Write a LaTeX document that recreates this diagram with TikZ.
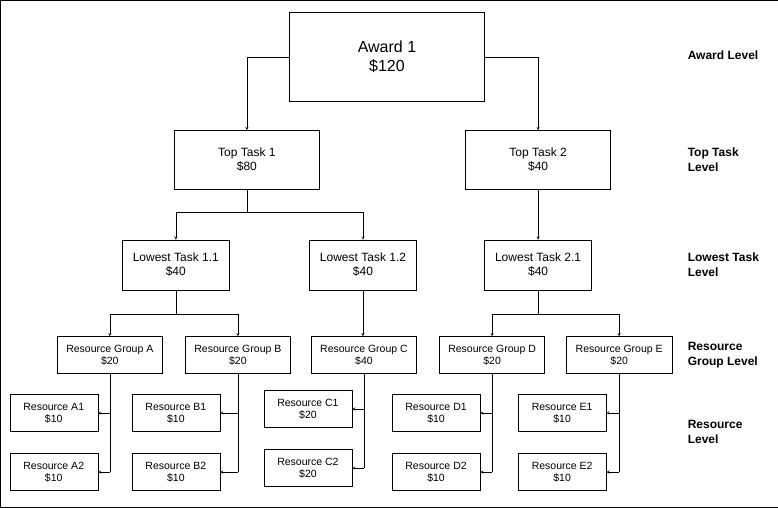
\documentclass[tikz,border=0pt]{standalone}
\usepackage{fontspec}
\setmainfont{Liberation Sans}
\usetikzlibrary{arrows,positioning}
\begin{document}
\begin{tikzpicture}[
  x=1pt, y=-1pt,
  >=stealth,
  box/.style={draw, rectangle, align=center, inner sep=1pt, font=\fontsize{12}{14}\selectfont},
  resbox/.style={box, minimum width=88pt, minimum height=37pt, font=\fontsize{10.5}{12.5}\selectfont},
  grpbox/.style={box, minimum width=105pt, minimum height=37pt, font=\fontsize{10.5}{12.5}\selectfont},
  lowbox/.style={box, minimum width=107pt, minimum height=50pt},
  topbox/.style={box, minimum width=145pt, minimum height=59pt},
  lvl/.style={align=left, anchor=west, font=\bfseries\fontsize{12}{15}\selectfont}
]
\draw (0.5,0.5) rectangle (777.5,507.5);

% levels of the tree
\node[box, minimum width=195pt, minimum height=89pt, font=\fontsize{16}{19}\selectfont] (award) at (387,57) {Award 1\\\$120};

\node[topbox] (top1) at (247,160) {Top Task 1\\\$80};
\node[topbox] (top2) at (538,160) {Top Task 2\\\$40};

\node[lowbox] (low11) at (176,265) {Lowest Task 1.1\\\$40};
\node[lowbox] (low12) at (363,265) {Lowest Task 1.2\\\$40};
\node[lowbox] (low21) at (538,265) {Lowest Task 2.1\\\$40};

\node[grpbox] (grpA) at (110,355) {Resource Group A\\\$20};
\node[grpbox] (grpB) at (238,355) {Resource Group B\\\$20};
\node[grpbox] (grpC) at (364,355) {Resource Group C\\\$40};
\node[grpbox] (grpD) at (492,355) {Resource Group D\\\$20};
\node[grpbox] (grpE) at (619,355) {Resource Group E\\\$20};

\node[resbox] (resA1) at (54,413) {Resource A1\\\$10};
\node[resbox] (resA2) at (54,472) {Resource A2\\\$10};
\node[resbox] (resB1) at (176,413) {Resource B1\\\$10};
\node[resbox] (resB2) at (176,472) {Resource B2\\\$10};
\node[resbox] (resC1) at (308,409) {Resource C1\\\$20};
\node[resbox] (resC2) at (308,468) {Resource C2\\\$20};
\node[resbox] (resD1) at (436,413) {Resource D1\\\$10};
\node[resbox] (resD2) at (436,472) {Resource D2\\\$10};
\node[resbox] (resE1) at (562,413) {Resource E1\\\$10};
\node[resbox] (resE2) at (562,472) {Resource E2\\\$10};

% level captions
\node[lvl] (lvlAward) at (684,55) {Award Level};
\node[lvl] (lvlTop) at (684,160) {Top Task\\Level};
\node[lvl] (lvlLow) at (684,265) {Lowest Task\\Level};
\node[lvl] (lvlGrp) at (684,355) {Resource\\Group Level};
\node[lvl] (lvlRes) at (684,432) {Resource\\Level};

% connectors
\draw[->] (award.west) -| (top1.north);
\draw[->] (award.east) -| (top2.north);

\coordinate (j1) at (247,212);
\draw (top1.south) -- (j1);
\draw[->] (j1) -| (low11.north);
\draw[->] (j1) -| (low12.north);
\draw[->] (top2.south) -- (low21.north);

\coordinate (j11) at (176,314);
\draw (low11.south) -- (j11);
\draw[->] (j11) -| (grpA.north);
\draw[->] (j11) -| (grpB.north);
\draw[->] (low12.south) -- (low12.south |- grpC.north);
\coordinate (j21) at (538,314);
\draw (low21.south) -- (j21);
\draw[->] (j21) -| (grpD.north);
\draw[->] (j21) -| (grpE.north);

\foreach \g/\r in {A/A, B/B, C/C, D/D, E/E} {
  \draw (grp\g.south) -- (grp\g.south |- res\r2.east);
  \draw[->] (grp\g.south |- res\r1.east) -- (res\r1.east);
  \draw[->] (grp\g.south |- res\r2.east) -- (res\r2.east);
}
\end{tikzpicture}
\end{document}
